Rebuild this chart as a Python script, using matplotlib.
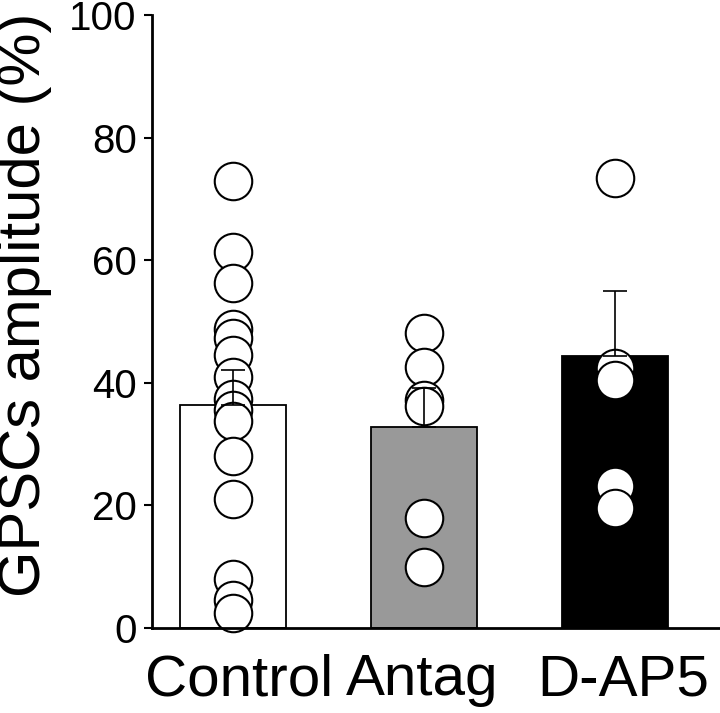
import numpy as np
import matplotlib.pyplot as plt
import matplotlib.transforms as mtransforms

plt.rcParams['font.family'] = ['Liberation Sans', 'DejaVu Sans']

groups = ["Control", "Antag", "D-AP5"]
means = [36.4, 32.8, 44.4]
sem = [5.7, 6.3, 10.5]
colors = ["white", "#999999", "black"]

control_pts = [73, 61.3, 56.2, 48.8, 47.3, 44.6, 41.0, 37.3, 35.6, 33.8, 28.1, 21.1, 8.0, 4.6, 2.5]
antag_pts = [48.1, 42.6, 37.2, 36.2, 17.9, 10.0]
dap5_pts = [73.4, 42.4, 40.5, 23.1, 19.5]
points = [control_pts, antag_pts, dap5_pts]

fig = plt.figure(figsize=(7.2, 7.13), dpi=100)
ax = fig.add_axes([152 / 720, 85 / 713, 568 / 720, 613 / 713])

x = np.arange(len(groups))
ax.bar(x, means, width=0.555, color=colors, edgecolor="black", linewidth=1.3, zorder=1)

for i, pts in enumerate(points):
    ax.plot(np.full(len(pts), x[i]), pts, "o", ms=27, mfc="white", mec="black",
            mew=1.5, zorder=2, clip_on=False)

ax.errorbar(x, means, yerr=[np.zeros(3), sem], fmt="none", ecolor="black",
            elinewidth=1.2, capsize=8.5, capthick=1.2, zorder=3)

ax.set_xlim(-0.424, 2.55)
ax.set_ylim(0, 100)
ax.set_yticks([0, 20, 40, 60, 80, 100])
ax.set_xticks(x)
ax.set_xticklabels(groups, fontsize=42)
ax.tick_params(axis="x", length=0, pad=18)
ax.tick_params(axis="y", labelsize=29, length=6, width=1.5, pad=5)
ax.spines["top"].set_visible(False)
ax.spines["right"].set_visible(False)
ax.spines["left"].set_linewidth(2)
ax.spines["bottom"].set_linewidth(2)

# nudge the group labels a little, like in the original figure
for lab, dx in zip(ax.get_xticklabels(), [6, -2, 8]):
    lab.set_transform(lab.get_transform() + mtransforms.ScaledTranslation(dx / 100, 0, fig.dpi_scale_trans))

ax.set_ylabel("GPSCs amplitude (%)", fontsize=43)
ax.yaxis.set_label_coords(-0.176, 0.527)

fig.savefig("out.png", dpi=100)
